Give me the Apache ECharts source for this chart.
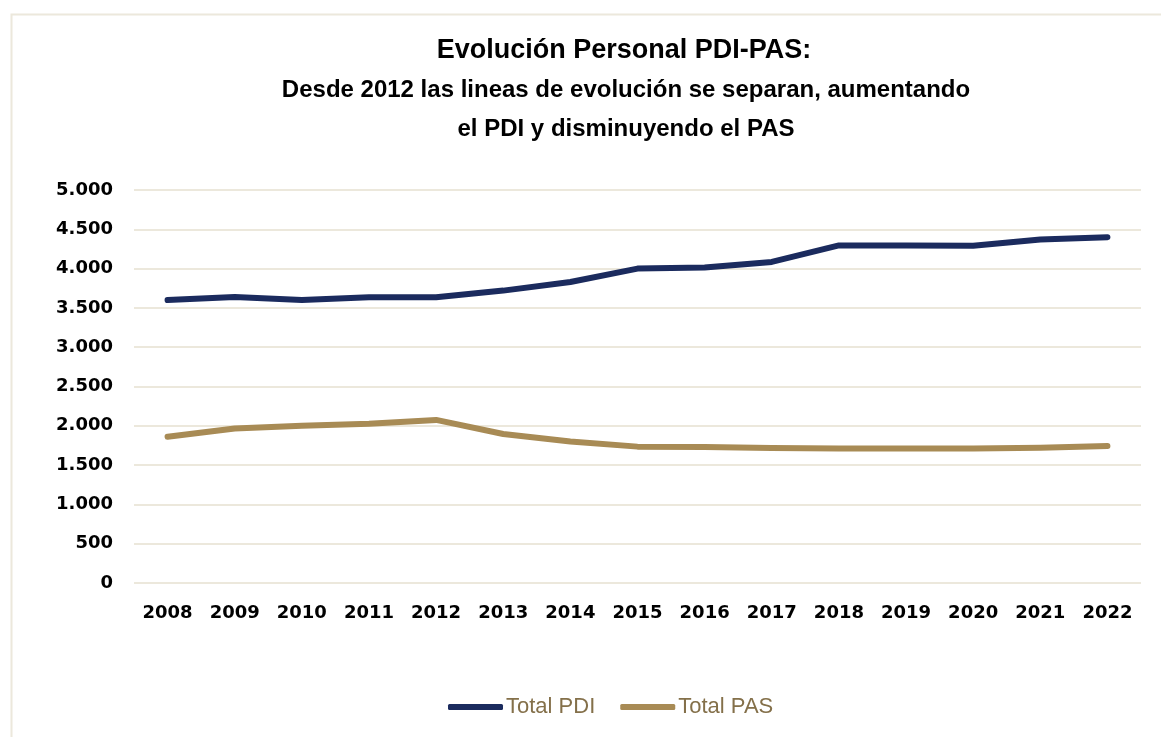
<!DOCTYPE html>
<html>
<head>
<meta charset="utf-8">
<script src="https://cdn.jsdelivr.net/npm/echarts@6/dist/echarts.min.js"></script>
<style>
html,body{margin:0;padding:0;background:#fff;}
#chart{width:1161px;height:737px;}
</style>
</head>
<body>
<div id="chart"></div>
<script>
const years = ['2008','2009','2010','2011','2012','2013','2014','2015','2016','2017','2018','2019','2020','2021','2022'];
const totalPDI = [3600,3640,3600,3635,3635,3720,3830,4000,4015,4085,4295,4295,4290,4370,4400];
const totalPAS = [1860,1965,2000,2025,2075,1895,1800,1735,1730,1718,1710,1710,1710,1722,1743];
const titleMain = 'Evolución Personal PDI-PAS:';
const titleSub = 'Desde 2012 las lineas de evolución se separan, aumentando\nel PDI y disminuyendo el PAS';

const fmt = v => v >= 1000 ? (Math.floor(v/1000) + '.' + String(v%1000).padStart(3,'0')) : String(v);

const chart = echarts.init(document.getElementById('chart'), null, {renderer:'canvas'});
chart.setOption({
  backgroundColor:'#ffffff',
  animation:false,
  graphic:[{
    type:'rect', left:9, top:12,
    shape:{width:1400, height:800},
    style:{fill:'none', stroke:'#ece8dc', lineWidth:2},
    silent:true
  }],
  title:[{
    text:titleMain, left:619, textAlign:'center', top:32,
    textStyle:{fontFamily:'Liberation Sans', fontWeight:'bold', fontSize:27, color:'#000'}
  },{
    text:titleSub, left:621, textAlign:'center', top:66,
    textStyle:{fontFamily:'Liberation Sans', fontWeight:'bold', fontSize:24, color:'#000', lineHeight:39}
  }],
  legend:{
    bottom:14, left:443,
    icon:'roundRect',
    itemWidth:55, itemHeight:6, itemGap:25,
    textStyle:{fontFamily:'Liberation Sans', fontSize:22, color:'#84704a', padding:[0,0,0,-2]},
    data:['Total PDI','Total PAS']
  },
  grid:{left:134, right:20, top:190, bottom:154, containLabel:false},
  xAxis:{
    type:'category', data:years, boundaryGap:true,
    axisLine:{show:false}, axisTick:{show:false},
    axisLabel:{fontFamily:'DejaVu Sans', fontWeight:'bold', fontSize:18, color:'#000', margin:21}
  },
  yAxis:{
    type:'value', min:0, max:5000, interval:500,
    axisLine:{show:false}, axisTick:{show:false},
    splitLine:{lineStyle:{color:'#ece8dc', width:2}},
    axisLabel:{fontFamily:'DejaVu Sans', fontWeight:'bold', fontSize:18, color:'#000', margin:21, formatter:fmt}
  },
  series:[{
    name:'Total PDI', type:'line', data:totalPDI, symbol:'none',
    lineStyle:{color:'#1b2b5e', width:6, cap:'round', join:'round'},
    itemStyle:{color:'#1b2b5e'}
  },{
    name:'Total PAS', type:'line', data:totalPAS, symbol:'none',
    lineStyle:{color:'#a88b55', width:6, cap:'round', join:'round'},
    itemStyle:{color:'#a88b55'}
  }]
});
</script>
</body>
</html>
